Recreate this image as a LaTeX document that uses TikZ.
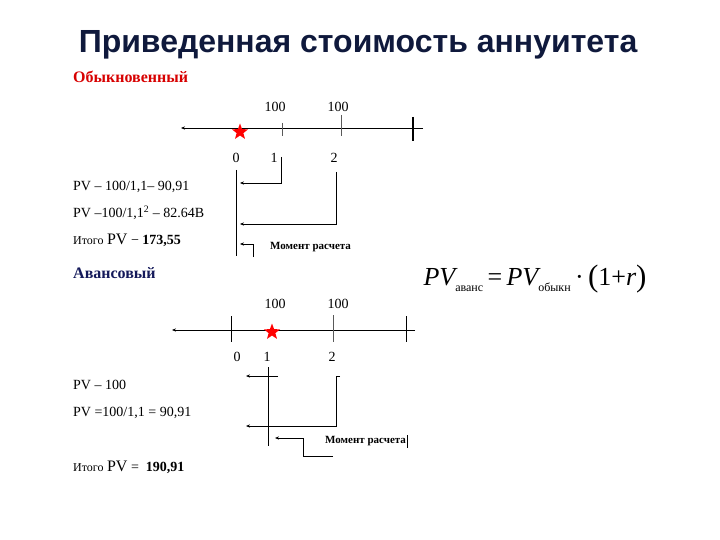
\documentclass[tikz,border=0pt]{standalone}
\usepackage{fontspec}
\setmainfont{Liberation Serif}
\newfontfamily\titlefont{Liberation Sans}
\usetikzlibrary{shapes.geometric,arrows.meta,positioning}
\definecolor{hdred}{RGB}{215,0,0}
\definecolor{hdblue}{RGB}{20,25,90}
\definecolor{titleblue}{RGB}{15,25,60}
\newcommand{\sbs}[1]{\raisebox{-6pt}{\upshape\fontsize{12}{12}\selectfont #1}}

\begin{document}
\begin{tikzpicture}[x=1pt,y=-1pt,>={Stealth[length=4pt,width=3.2pt]},
  txt/.style={anchor=west,inner sep=0pt,font=\fontsize{14}{16}\selectfont},
  num/.style={inner sep=0pt,font=\fontsize{14}{16}\selectfont},
  head/.style={anchor=west,inner sep=0pt,font=\fontsize{16}{18}\selectfont\bfseries},
  note/.style={anchor=west,inner sep=0pt,font=\fontsize{11}{13}\selectfont\bfseries},
  redstar/.style={star,star points=5,star point ratio=2.4,fill=red,inner sep=0pt,minimum size=17pt},
  link/.style={->,line width=0.7pt},
  axis/.style={->,line width=0.9pt}]
\useasboundingbox (0,0) rectangle (720,540);
\node[text=titleblue,font=\titlefont\bfseries\fontsize{32}{35}\selectfont] (title) at (358,45) {Приведенная стоимость аннуитета};

% обыкновенный
\node[head,text=hdred] (h1) at (73,77) {Обыкновенный};
\coordinate (a0) at (181,128); \coordinate (a1) at (423,128);
\draw[axis] (a1) -- (a0);
\draw[gray!70!black,line width=0.5pt] (282,123) -- (282,136) (341,115) -- (341,136);
\draw[line width=1.1pt] (413,117) -- (413,141);
\node[redstar] (s1) at (240,132) {};
\node[num] (c11) at (275,107) {100};
\node[num] (c12) at (338,107) {100};
\node[num] (t10) at (236,158) {0};
\node[num] (t11) at (274,158) {1};
\node[num] (t12) at (334,158) {2};
\node[txt] (pv11) at (73,187) {PV – 100/1,1– 90,91};
\node[txt] (pv12) at (73,213) {PV –100/1,1\textsuperscript{2} – 82.64В};
\node[txt] (sum1) at (73,240) {{\fontsize{12}{14}\selectfont Итого} {\fontsize{16}{18}\selectfont PV} − \textbf{173,55}};
\node[note] (m1) at (270,247) {Момент расчета};
\coordinate (v1t) at (236,170); \coordinate (v1b) at (236,256);
\draw[line width=0.7pt] (v1t) -- (v1b);
\coordinate (b11) at (281,157); \coordinate (e11) at (240,183);
\coordinate (b12) at (336,172); \coordinate (e12) at (240,224);
\coordinate (b13) at (253,257); \coordinate (e13) at (240,244);
\draw[link] (b11) |- (e11);
\draw[link] (b12) |- (e12);
\draw[link] (b13) |- (e13);

% авансовый
\node[head,text=hdblue] (h2) at (73,273) {Авансовый};
\node[inner sep=0pt,font=\fontsize{26}{28}\selectfont] (f) at (535,279)
  {\itshape PV\sbs{аванс}\,\upshape=\,\itshape PV\sbs{обыкн}\,\upshape·\,\raisebox{-1pt}{\fontsize{31}{31}\selectfont(}1+\itshape r\upshape\raisebox{-1pt}{\fontsize{31}{31}\selectfont)}};
\coordinate (b0) at (172,330); \coordinate (b1) at (415,330);
\draw[axis] (b1) -- (b0);
\draw[line width=1pt] (231,316) -- (231,342) (406,316) -- (406,342);
\draw[gray!70!black,line width=0.5pt] (333,315) -- (333,342);
\node[redstar] (s2) at (272,332) {};
\node[num] (c21) at (275,304) {100};
\node[num] (c22) at (338,304) {100};
\node[num] (t20) at (237,357) {0};
\node[num] (t21) at (267,357) {1};
\node[num] (t22) at (332,357) {2};
\node[txt] (pv21) at (73,385) {PV – 100};
\node[txt] (pv22) at (73,413) {PV =100/1,1 = 90,91};
\node[txt] (sum2) at (73,467) {{\fontsize{12}{14}\selectfont Итого} {\fontsize{16}{18}\selectfont PV} = \ \textbf{190,91}};
\node[note] (m2) at (325,441) {Момент расчета};
\draw[line width=1.4pt] (m2.east) ++(1.5,-6) -- ++(0,13);
\coordinate (v2t) at (268,367); \coordinate (v2b) at (268,446);
\draw[line width=0.7pt] (v2t) -- (v2b);
\coordinate (b21) at (278,376); \coordinate (e21) at (246,376);
\coordinate (b22) at (340,376); \coordinate (k22) at (336,376); \coordinate (e22) at (246,426);
\coordinate (b23) at (333,456); \coordinate (k23) at (303,438); \coordinate (e23) at (275,438);
\draw[link] (b21) -- (e21);
\draw[link] (b22) -- (k22) |- (e22);
\draw[link] (b23) -| (k23) -- (e23);
\end{tikzpicture}
\end{document}
